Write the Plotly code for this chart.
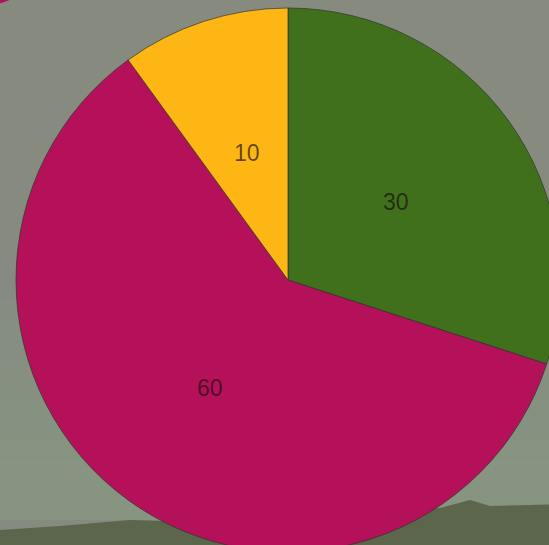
import math
import plotly.graph_objects as go

# Slice data
labels = ["Green", "Magenta", "Amber"]
values = [30, 60, 10]
colors = ["#41701d", "#b5115a", "#fdb614"]

# Canvas is a little larger than the viewport so the pie can bleed off the edges
W, H = 570, 560
CX, CY, R = 288, 280, 272  # pie centre / radius in pixels from the top-left
LABEL_R = 0.49  # value labels sit at about half the radius


def px(x):
    return x / W


def py(y):
    return 1 - y / H


fig = go.Figure(
    go.Pie(
        labels=labels,
        values=values,
        sort=False,
        direction="clockwise",
        rotation=0,
        textinfo="none",
        marker=dict(colors=colors, line=dict(color="rgba(50,50,45,0.7)", width=1)),
        domain=dict(x=[px(CX - R), px(CX + R)], y=[py(CY + R), py(CY - R)]),
        showlegend=False,
        hoverinfo="label+value",
    )
)

# Value labels placed at the angular middle of each slice (clockwise from 12 o'clock)
total = sum(values)
annotations = []
start = 0.0
for v in values:
    mid = (start + v / 2) / total * 2 * math.pi
    start += v
    lx = CX + LABEL_R * R * math.sin(mid)
    ly = CY - LABEL_R * R * math.cos(mid)
    annotations.append(dict(
        x=px(lx), y=py(ly), xref="paper", yref="paper", text=str(v), showarrow=False,
        xanchor="center", yanchor="middle",
        font=dict(family="Arial, Liberation Sans, sans-serif", size=23,
                  color="rgba(20,10,10,0.66)"),
    ))

# Textured wall backdrop: soft lighter lower area, dark ground strip along the bottom
shapes = []
for y0 in range(280, 470, 20):
    shapes.append(dict(type="rect", xref="paper", yref="paper", x0=0, x1=1,
                       y0=py(520), y1=py(y0), fillcolor="rgba(165,170,155,0.04)",
                       line_width=0, layer="below"))
shapes += [
    dict(type="path", xref="paper", yref="paper", layer="below", line_width=0,
         fillcolor="#5c664c",
         path=("M {} {} L {} {} L {} {} L {} {} L {} {} L {} {} L {} {} L {} {} L {} {} L {} {} L {} {} Z").format(
             px(0), py(H), px(0), py(530), px(60), py(526), px(130), py(520),
             px(200), py(522), px(330), py(514), px(440), py(508), px(470), py(500),
             px(490), py(506), px(W), py(504), px(W), py(H))),
    dict(type="circle", xref="paper", yref="paper", layer="below", line_width=0,
         fillcolor="#b5115a",
         x0=px(-54.5), x1=px(34.5), y0=py(4.5), y1=py(-84.5)),
]

fig.update_layout(
    width=W,
    height=H,
    margin=dict(l=0, r=0, t=0, b=0),
    paper_bgcolor="#868a7f",
    plot_bgcolor="#868a7f",
    shapes=shapes,
    annotations=annotations,
)

fig.write_html(
    "out.html",
    post_script="document.documentElement.style.overflow='hidden';document.body.style.overflow='hidden';document.body.style.margin='0';",
)
